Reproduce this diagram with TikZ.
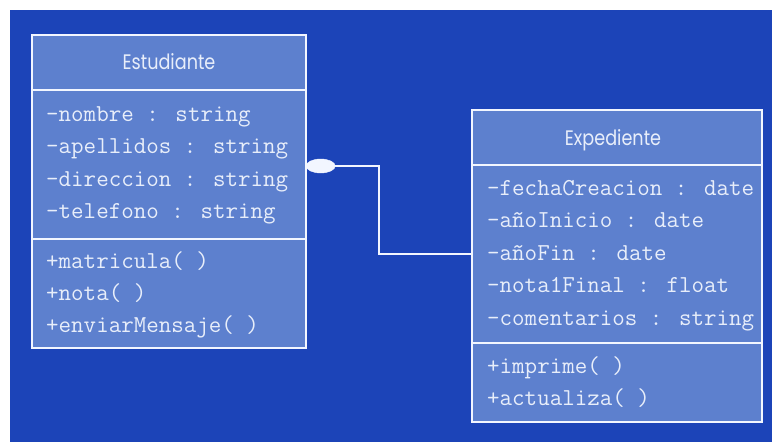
\documentclass[tikz,border=0pt]{standalone}
\usepackage{fontspec}
\newfontfamily\titlefont{Poppins}
\usetikzlibrary{shapes.geometric}
\definecolor{bgblue}{RGB}{28,68,184}
\definecolor{boxblue}{RGB}{93,128,206}
\definecolor{lineclr}{RGB}{242,246,255}
\definecolor{txtclr}{RGB}{232,238,250}
\newcommand{\ttlnarrow}[1]{\scalebox{0.84}[1]{#1}}
\tikzset{
  part/.style={draw=lineclr, line width=2pt, fill=boxblue, rectangle, inner sep=0pt},
  ttl/.style={text=txtclr, font=\titlefont\fontsize{21}{24}\selectfont, anchor=base, inner sep=0pt},
  mem/.style={text=txtclr, font=\ttfamily\fontsize{24.3}{28}\selectfont, anchor=base west, inner sep=0pt},
  conn/.style={draw=lineclr, line width=2pt},
}
\begin{document}
\begin{tikzpicture}[x=1pt,y=-1pt]
\useasboundingbox (0,0) rectangle (772,442);
\fill[white] (0,0) rectangle (772,442);
\fill[bgblue] (10,10) rectangle (772,442);
% Estudiante
\node[part, minimum width=274pt, minimum height=55pt] (esttitle) at (169,62.5) {};
\node[part, minimum width=274pt, minimum height=149pt] (estattr) at (169,164.5) {};
\node[part, minimum width=274pt, minimum height=109pt] (estmeth) at (169,293.5) {};
\node[ttl] (estname) at (169,69.5) {\ttlnarrow{Estudiante}};
\node[mem] (e1) at (46,121.5) {-nombre : string};
\node[mem] (e2) at (46,153.5) {-apellidos : string};
\node[mem] (e3) at (46,186) {-direccion : string};
\node[mem] (e4) at (46,218) {-telefono : string};
\node[mem] (e5) at (46,268) {+matricula( )};
\node[mem] (e6) at (46,300) {+nota( )};
\node[mem] (e7) at (46,332) {+enviarMensaje( )};
% Expediente
\node[part, minimum width=290pt, minimum height=55pt] (exptitle) at (617,137.5) {};
\node[part, minimum width=290pt, minimum height=178pt] (expattr) at (617,254) {};
\node[part, minimum width=290pt, minimum height=79pt] (expmeth) at (617,382.5) {};
\node[ttl] (expname) at (613,145.5) {\ttlnarrow{Expediente}};
\node[mem] (x1) at (487,195) {-fechaCreacion : date};
\node[mem] (x2) at (487,227.5) {-añoInicio : date};
\node[mem] (x3) at (487,260) {-añoFin : date};
\node[mem] (x4) at (487,292.5) {-nota1Final : float};
\node[mem] (x5) at (487,325) {-comentarios : string};
\node[mem] (x6) at (487,373) {+imprime( )};
\node[mem] (x7) at (487,405) {+actualiza( )};
% connector
\node[ellipse, fill=lineclr, draw=lineclr, minimum width=29pt, minimum height=14pt, inner sep=0pt, anchor=west] (dot) at (306,166) {};
\coordinate (bend) at (379,254);
\draw[conn] (dot.east) -| (bend) -- (bend -| expattr.west);
\end{tikzpicture}
\end{document}
